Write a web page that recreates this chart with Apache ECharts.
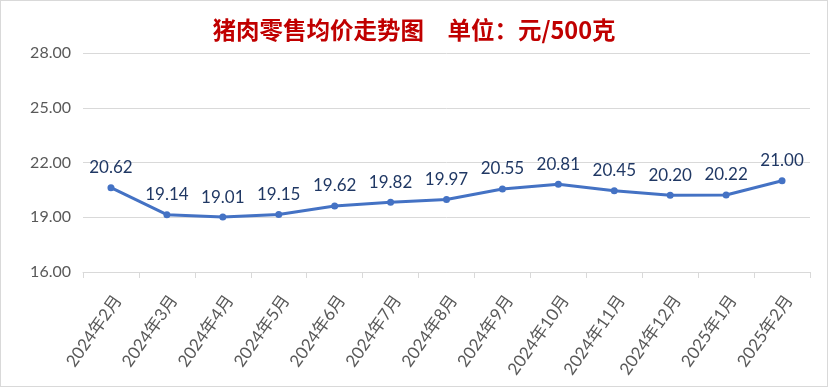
<!DOCTYPE html>
<html><head><meta charset="utf-8">
<script src="https://cdn.jsdelivr.net/npm/echarts@6/dist/echarts.min.js"></script>
<style>html,body{margin:0;padding:0;background:#fff}#c{width:828px;height:387px;box-sizing:border-box;border:1px solid #d9d9d9}</style>
</head><body><div id="c"></div>
<script>
const categories = ["2024年2月","2024年3月","2024年4月","2024年5月","2024年6月","2024年7月","2024年8月","2024年9月","2024年10月","2024年11月","2024年12月","2025年1月","2025年2月"];
const prices = [20.62,19.14,19.01,19.15,19.62,19.82,19.97,20.55,20.81,20.45,20.20,20.22,21.00];
const titleText = "猪肉零售均价走势图　单位：元/500克";
const chart = echarts.init(document.getElementById('c'));
const font = 'Lato, "Noto Sans CJK SC", sans-serif';
chart.setOption({
  animation:false,
  title:{text:titleText,left:'center',top:12,textStyle:{color:'#C00000',fontSize:23.5,fontWeight:'bold',fontFamily:'"Noto Sans CJK SC", sans-serif'}},
  grid:{left:82,right:17,top:52,bottom:114,containLabel:false},
  xAxis:{type:'category',data:categories,boundaryGap:true,
    axisLine:{lineStyle:{color:'#d9d9d9',width:1}},
    axisTick:{show:true,alignWithLabel:false,length:6,lineStyle:{color:'#d9d9d9'}},
    axisLabel:{rotate:55,color:'#595959',fontSize:17,fontFamily:font,margin:20,verticalAlign:'top',interval:0}},
  yAxis:{type:'value',min:16,max:28,interval:3,
    axisLine:{show:false},axisTick:{show:false},
    splitLine:{lineStyle:{color:'#d9d9d9',width:1}},
    axisLabel:{color:'#595959',fontSize:16,fontFamily:font,margin:12,formatter:v=>v.toFixed(2)}},
  series:[{type:'line',data:prices,symbol:'circle',symbolSize:7,
    lineStyle:{color:'#4472C4',width:3},itemStyle:{color:'#4472C4'},
    label:{show:true,position:'top',distance:8,color:'#203864',fontSize:17,fontFamily:font,formatter:p=>p.value.toFixed(2)}}]
});
</script></body></html>
